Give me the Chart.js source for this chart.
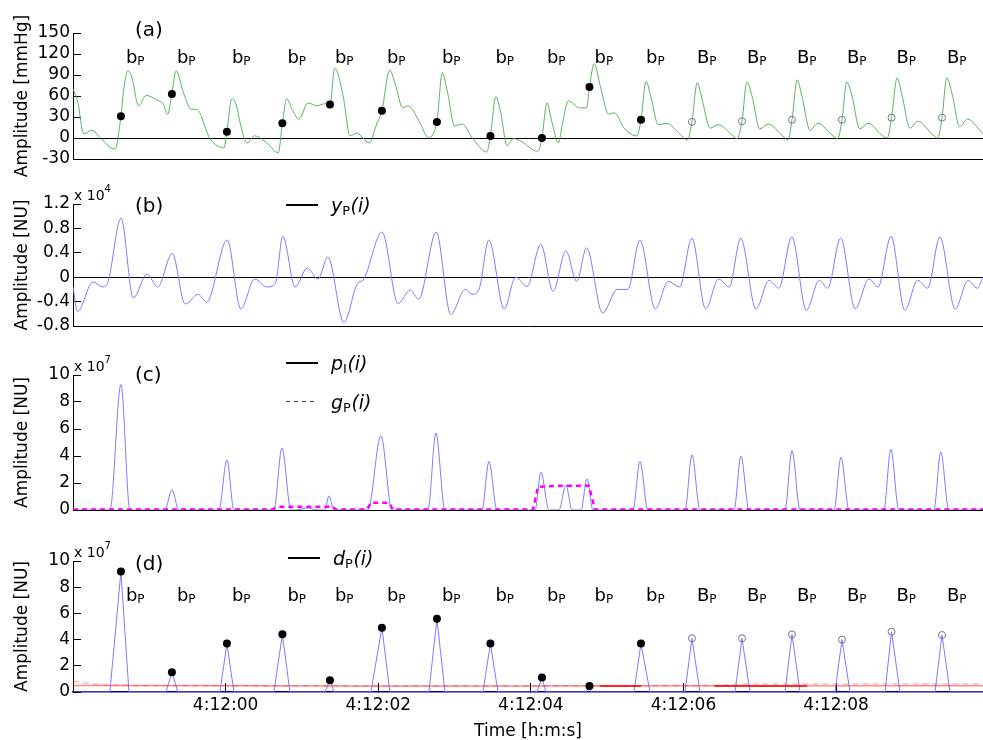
<!DOCTYPE html>
<html>
<head>
<meta charset="utf-8">
<script src="https://cdn.jsdelivr.net/npm/chart.js@4.4.1/dist/chart.umd.min.js"></script>
<style>
    html, body { margin: 0; padding: 0; background: #fff; }
    #wrap { position: relative; width: 983px; height: 740px; overflow: hidden; }
    canvas { position: absolute; left: 0; }
</style>
</head>
<body>
<div id="wrap">
    <canvas id="panel-a" width="983" height="186" style="top:0px;width:983px;height:186px"></canvas>
    <canvas id="panel-b" width="983" height="170" style="top:170px;width:983px;height:170px"></canvas>
    <canvas id="panel-c" width="983" height="180" style="top:340px;width:983px;height:180px"></canvas>
    <canvas id="panel-d" width="983" height="220" style="top:520px;width:983px;height:220px"></canvas>
</div>
<script>
// Time axis, seconds relative to 4:12:00
const X_MIN = -2.0;
const X_MAX = 9.925;
const timeTicks = [0, 2, 4, 6, 8];
const timeTickLabels = ['4:12:00', '4:12:02', '4:12:04', '4:12:06', '4:12:08'];

// Detected beats (b = filled, B = open)
const beatTimes = [-1.372, -0.704, 0.017, 0.744, 1.367, 2.048, 2.769, 3.470, 4.145, 4.768, 5.443, 6.111, 6.767, 7.422, 8.077, 8.726, 9.388];
const beatTypes = ['b', 'b', 'b', 'b', 'b', 'b', 'b', 'b', 'b', 'b', 'b', 'B', 'B', 'B', 'B', 'B', 'B'];
const beatPressure = [31, 63, 9, 21, 48, 39, 23, 3, 0, 73, 26, 23, 24, 26, 26, 29, 29];
const beatDetection = [9.2, 1.5, 3.7, 4.4, 0.9, 4.9, 5.6, 3.7, 1.1, 0.45, 3.7, 4.1, 4.1, 4.4, 4.0, 4.6, 4.35];

// (a) pressure [mmHg]
const pressureTicks = [-30, 0, 30, 60, 90, 120, 150];
const pressureTimes = [
    -2.00, -1.94, -1.86, -1.75, -1.65, -1.45,
    -1.33, -1.28, -1.23, -1.14, -1.04, -0.90, -0.82, -0.76,
    -0.65, -0.55, -0.45, -0.38, -0.21, -0.11, -0.02,
    0.08, 0.14, 0.20, 0.28, 0.38, 0.54, 0.69,
    0.80, 0.88, 0.96, 1.08, 1.20, 1.30,
    1.43, 1.54, 1.63, 1.72, 1.80, 1.88, 1.98,
    2.15, 2.23, 2.32, 2.39, 2.55, 2.66, 2.72,
    2.84, 2.91, 3.00, 3.10, 3.24, 3.42,
    3.54, 3.60, 3.69, 3.77, 3.86, 4.09,
    4.21, 4.28, 4.36, 4.42, 4.49, 4.64, 4.73,
    4.83, 4.91, 5.02, 5.09, 5.23, 5.39,
    5.51, 5.57, 5.67, 5.78, 5.95, 6.05,
    6.18, 6.24, 6.35, 6.45, 6.65, 6.70,
    6.83, 6.90, 7.00, 7.11, 7.30, 7.37,
    7.49, 7.55, 7.66, 7.76, 7.96, 8.02,
    8.14, 8.21, 8.31, 8.42, 8.60, 8.67,
    8.80, 8.86, 8.97, 9.07, 9.27, 9.33,
    9.45, 9.52, 9.62, 9.72, 9.925
];
const pressureValues = [
    70, 53, 6, 11, 1, -16,
    74, 96, 87, 46, 61, 54, 49, 34,
    96, 64, 41, 41, 0, -11, -14,
    56, 47, 17, -7, 3, -7, -21,
    56, 39, 27, 50, 46, 49,
    100, 60, 3, 7, 0, -7, 20,
    97, 74, 43, 46, 21, 0, 6,
    93, 64, 17, 20, -1, -20,
    59, 39, -11, -1, -4, -19,
    50, 21, -7, 24, 53, 43, 43,
    106, 74, 34, 36, 13, 3,
    81, 60, 19, 21, 6, -3,
    79, 57, 14, 19, 3, -1,
    80, 59, 13, 20, 3, -3,
    83, 61, 11, 21, 3, -1,
    80, 59, 13, 21, 4, 0,
    86, 63, 14, 24, 4, 0,
    86, 63, 16, 27, 6
];

// (b) y_P(i), x 10^4
const yPTicks = [-0.8, -0.4, 0, 0.4, 0.8, 1.2];
const yPTimes = [
    -2.00, -1.94, -1.74, -1.61, -1.54, -1.37, -1.21, -1.03, -0.89, -0.70,
    -0.53, -0.36, -0.25, 0.02, 0.20, 0.38, 0.54, 0.65, 0.75, 0.91,
    1.07, 1.21, 1.34, 1.55, 1.73, 1.80, 2.05, 2.26, 2.42, 2.53,
    2.76, 2.95, 3.14, 3.23, 3.32, 3.45, 3.65, 3.80, 3.95, 4.13,
    4.29, 4.46, 4.60, 4.73, 4.94, 5.13, 5.27, 5.43, 5.63, 5.80,
    5.95, 6.11, 6.29, 6.46, 6.60, 6.75, 6.95, 7.12, 7.25, 7.42,
    7.61, 7.78, 7.89, 8.06, 8.25, 8.43, 8.55, 8.72, 8.90, 9.07,
    9.20, 9.36, 9.56, 9.73, 9.85, 9.925
];
const yPValues = [
    -0.16, -0.56, -0.08, -0.16, -0.07, 0.97, -0.34, 0.05, -0.16, 0.39,
    -0.44, -0.28, -0.41, 0.61, -0.52, -0.03, -0.16, -0.11, 0.67, -0.16,
    0.15, -0.03, 0.33, -0.74, -0.10, -0.05, 0.74, -0.43, -0.21, -0.36,
    0.74, -0.61, -0.20, -0.28, -0.20, 0.61, -0.52, 0.00, -0.15, 0.54,
    -0.23, 0.43, -0.07, 0.48, -0.59, -0.20, -0.20, 0.61, -0.52, -0.07,
    -0.16, 0.64, -0.52, -0.03, -0.16, 0.64, -0.52, -0.05, -0.18, 0.66,
    -0.54, -0.05, -0.18, 0.64, -0.52, -0.03, -0.16, 0.67, -0.54, -0.05,
    -0.18, 0.66, -0.52, -0.05, -0.18, 0.00
];

// (c) p_I(i) pulses and g_P(i), x 10^7
const nuTicks = [0, 2, 4, 6, 8, 10];
const pIStart = [-1.516, -0.796, -0.088, 0.633, 0.921, 1.302, 1.865, 2.651, 3.359, 4.054, 4.368, 4.657, 5.338, 6.020, 6.662, 7.330, 7.972, 8.625, 9.280];
const pIPeakTimes = [-1.372, -0.704, 0.017, 0.738, 1.079, 1.354, 2.035, 2.756, 3.451, 4.132, 4.460, 4.735, 5.429, 6.111, 6.753, 7.422, 8.064, 8.717, 9.372];
const pIEnd = [-1.254, -0.612, 0.109, 0.856, 1.210, 1.420, 2.180, 2.874, 3.556, 4.237, 4.539, 4.814, 5.534, 6.216, 6.858, 7.527, 8.169, 8.822, 9.477];
const pIPeaks = [9.3, 1.5, 3.7, 4.6, 0.15, 1.05, 5.5, 5.7, 3.6, 2.8, 1.85, 2.3, 3.6, 4.1, 4.0, 4.4, 3.9, 4.5, 4.3];
const gPTimes = [-2.0, 0.61, 0.685, 1.406, 1.446, 1.852, 1.904, 2.14, 2.193, 4.028, 4.093, 4.381, 4.761, 4.84, 9.925];
const gPValues = [0.03, 0.03, 0.24, 0.24, 0.03, 0.03, 0.54, 0.54, 0.03, 0.03, 1.72, 1.8, 1.8, 0.03, 0.03];

// (d) d_P(i) pulses and thresholds, x 10^7
const dPStart = [-1.516, -0.782, -0.075, 0.633, 1.302, 1.904, 2.664, 3.372, 4.080, 4.722, 5.351, 6.020, 6.675, 7.330, 7.986, 8.641, 9.296];
const dPEnd = [-1.267, -0.625, 0.109, 0.843, 1.420, 2.153, 2.874, 3.569, 4.198, 4.788, 5.561, 6.216, 6.871, 7.527, 8.182, 8.837, 9.493];
const thresholdTimes = [-2.0, 2.0, 9.925];
const thresholdValues = [0.5, 0.45, 0.48];
const adaptiveTimes = [-2.0, -1.75, -1.2, 3.0, 6.4, 6.9, 9.925];
const adaptiveValues = [0.85, 0.6, 0.5, 0.45, 0.5, 0.62, 0.62];
const gateTimes = [4.9, 5.45, 5.46, 6.41, 7.62];
const gateValues = [0.45, 0.45, null, 0.45, 0.45];

const FONT = '"DejaVu Sans", sans-serif';
Chart.defaults.font.family = FONT;
Chart.defaults.font.size = 17;
Chart.defaults.color = '#000';

// Helpers
function toPoints(xs, ys) {
    return xs.map((x, i) => ({ x: x, y: ys[i] }));
}

function pulses(starts, peakTimes, ends, values) {
    const pts = [{ x: X_MIN, y: 0 }];
    starts.forEach((s, i) => {
        pts.push({ x: s, y: 0 }, { x: peakTimes[i], y: values[i] }, { x: ends[i], y: 0 });
    });
    pts.push({ x: X_MAX, y: 0 });
    return pts;
}

function beatMarks(values, type) {
    return beatTimes
        .map((t, i) => ({ x: t, y: values[i], type: beatTypes[i] }))
        .filter(p => p.type === type);
}

function dotSet(values) {
    return {
        data: beatMarks(values, 'b'), showLine: false, order: 0,
        pointRadius: 4, pointBackgroundColor: '#000', pointBorderWidth: 0
    };
}

function ringSet(values) {
    return {
        data: beatMarks(values, 'B'), showLine: false, order: 0,
        pointRadius: 3.5, pointBackgroundColor: 'rgba(0,0,0,0)', pointBorderColor: '#777', pointBorderWidth: 1
    };
}

// Text, legend and beat label overlay
function makeDecor(cfg) {
    return {
        id: 'decor',
        afterDraw(chart) {
            const ctx = chart.ctx;
            const top = chart.chartArea.top;
            const xs = chart.scales.x;
            ctx.save();
            ctx.fillStyle = '#000';
            ctx.textAlign = 'left';
            ctx.textBaseline = 'alphabetic';

            ctx.font = '20px ' + FONT;
            ctx.fillText(cfg.tag, 135, cfg.tagBaseline);

            if (cfg.exponent) {
                ctx.font = '14px ' + FONT;
                ctx.fillText('x 10', 74, top - 4);
                const w = ctx.measureText('x 10').width;
                ctx.font = '10px ' + FONT;
                ctx.fillText(cfg.exponent, 74 + w, top - 12);
            }

            (cfg.legend || []).forEach(item => {
                ctx.beginPath();
                ctx.strokeStyle = item.dash ? '#444' : '#000';
                ctx.lineWidth = item.dash ? 1 : 2;
                ctx.setLineDash(item.dash || []);
                ctx.moveTo(cfg.legendX, item.y);
                ctx.lineTo(cfg.legendX + 32, item.y);
                ctx.stroke();
                ctx.setLineDash([]);
                let x = cfg.legendX + 45;
                item.runs.forEach(run => {
                    const sub = run[1] === 'sub';
                    ctx.font = sub ? '13px ' + FONT : 'italic 19px ' + FONT;
                    ctx.fillText(run[0], x, item.y + (sub ? 10 : 7));
                    x += ctx.measureText(run[0]).width + (sub ? 0.5 : 0);
                });
            });

            if (cfg.beatBaseline) {
                beatTimes.forEach((t, i) => {
                    const x = xs.getPixelForValue(t) + 5;
                    ctx.font = '18px ' + FONT;
                    ctx.fillText(beatTypes[i], x, cfg.beatBaseline);
                    const w = ctx.measureText(beatTypes[i]).width;
                    ctx.font = '12px ' + FONT;
                    ctx.fillText('P', x + w, cfg.beatBaseline + 1.5);
                });
            }
            ctx.restore();
        }
    };
}

function panelOptions(p) {
    return {
        responsive: false,
        animation: false,
        devicePixelRatio: 1,
        events: [],
        layout: { padding: { top: p.top, left: 0, right: 0, bottom: 0 }, autoPadding: false },
        plugins: { legend: { display: false }, tooltip: { enabled: false } },
        elements: { point: { radius: 0 }, line: { borderWidth: 1 } },
        scales: {
            x: {
                type: 'linear',
                min: X_MIN,
                max: X_MAX,
                afterBuildTicks: s => { s.ticks = timeTicks.map(v => ({ value: v })); },
                afterFit: s => {
                    s.height = p.xHeight;
                    s.paddingLeft = 0; s.paddingRight = 0; s.paddingTop = 0; s.paddingBottom = 0;
                },
                grid: { display: !!p.timeAxis, drawOnChartArea: false, tickLength: -9, color: '#000', tickColor: '#000' },
                border: { color: p.baseColor || '#000', width: p.baseWidth || 1 },
                ticks: {
                    display: !!p.timeAxis, padding: 12, maxRotation: 0, autoSkip: false,
                    callback: (v, i) => timeTickLabels[i]
                },
                title: { display: !!p.timeAxis, text: 'Time [h:m:s]', padding: { top: 0, bottom: -2 } }
            },
            y: {
                type: 'linear',
                min: p.yTicks[0],
                max: p.yTicks[p.yTicks.length - 1],
                afterBuildTicks: s => { s.ticks = p.yTicks.map(v => ({ value: v })); },
                afterFit: s => {
                    s.width = 73;
                    s.paddingLeft = 0; s.paddingRight = 0; s.paddingTop = 0; s.paddingBottom = 0;
                },
                grid: {
                    drawOnChartArea: true, tickLength: -8, tickColor: '#000', lineWidth: 1,
                    color: c => (p.zeroLine && c.tick && c.tick.value === 0) ? '#000' : 'rgba(0,0,0,0)'
                },
                border: { color: '#000', width: 1 },
                ticks: { padding: 11, autoSkip: false, callback: p.yFormat || (v => String(v)) },
                title: { display: true, text: p.yTitle, padding: { top: 12, bottom: 0 } }
            }
        }
    };
}

const GREEN = '#55b455';
const BLUE = '#7b7bff';

// (a) pressure
const pressurePoints = toPoints(pressureTimes, pressureValues)
    .concat(toPoints(beatTimes, beatPressure))
    .sort((p, q) => p.x - q.x);

new Chart(document.getElementById('panel-a'), {
    type: 'line',
    data: {
        datasets: [
            dotSet(beatPressure),
            ringSet(beatPressure),
            { data: pressurePoints, borderColor: GREEN, borderWidth: 1, cubicInterpolationMode: 'monotone', order: 1 }
        ]
    },
    options: panelOptions({ top: 33, xHeight: 27, yTicks: pressureTicks, yTitle: 'Amplitude [mmHg]', zeroLine: true }),
    plugins: [makeDecor({ tag: '(a)', tagBaseline: 36, beatBaseline: 63 })]
});

// (b) y_P(i)
new Chart(document.getElementById('panel-b'), {
    type: 'line',
    data: {
        datasets: [
            { data: toPoints(yPTimes, yPValues), borderColor: BLUE, borderWidth: 1, cubicInterpolationMode: 'monotone' }
        ]
    },
    options: panelOptions({
        top: 34, xHeight: 14, yTicks: yPTicks, yTitle: 'Amplitude [NU]', zeroLine: true,
        yFormat: v => v === 0 ? '0' : v.toFixed(1)
    }),
    plugins: [makeDecor({
        tag: '(b)', tagBaseline: 42, exponent: '4', legendX: 286,
        legend: [{ y: 35, runs: [['y', 'main'], ['P', 'sub'], ['(i)', 'main']] }]
    })]
});

// (c) p_I(i) and g_P(i)
new Chart(document.getElementById('panel-c'), {
    type: 'line',
    data: {
        datasets: [
            { data: toPoints(gPTimes, gPValues), borderColor: '#ff00ff', borderWidth: 2.5, borderDash: [5, 4], order: 0 },
            { data: pulses(pIStart, pIPeakTimes, pIEnd, pIPeaks), borderColor: BLUE, borderWidth: 1, cubicInterpolationMode: 'monotone', order: 1 }
        ]
    },
    options: panelOptions({ top: 35, xHeight: 10, yTicks: nuTicks, yTitle: 'Amplitude [NU]' }),
    plugins: [makeDecor({
        tag: '(c)', tagBaseline: 41, exponent: '7', legendX: 286,
        legend: [
            { y: 23, runs: [['p', 'main'], ['I', 'sub'], ['(i)', 'main']] },
            { y: 61.5, dash: [4, 4], runs: [['g', 'main'], ['P', 'sub'], ['(i)', 'main']] }
        ]
    })]
});

// (d) d_P(i) with thresholds
new Chart(document.getElementById('panel-d'), {
    type: 'line',
    data: {
        datasets: [
            dotSet(beatDetection),
            ringSet(beatDetection),
            { data: toPoints(gateTimes, gateValues), borderColor: '#ff0000', borderWidth: 1.5, spanGaps: false, order: 1 },
            { data: toPoints(thresholdTimes, thresholdValues), borderColor: 'rgba(255,0,0,0.45)', borderWidth: 1.5, order: 2 },
            { data: toPoints(adaptiveTimes, adaptiveValues), borderColor: 'rgba(255,90,90,0.45)', borderWidth: 1.5, borderDash: [6, 4], order: 2 },
            { data: pulses(dPStart, beatTimes, dPEnd, beatDetection), borderColor: BLUE, borderWidth: 1, order: 3 }
        ]
    },
    options: panelOptions({
        top: 41, xHeight: 48, yTicks: nuTicks, yTitle: 'Amplitude [NU]',
        timeAxis: true, baseColor: '#000080', baseWidth: 1.5
    }),
    plugins: [makeDecor({
        tag: '(d)', tagBaseline: 50, exponent: '7', legendX: 288, beatBaseline: 81,
        legend: [{ y: 38, runs: [['d', 'main'], ['P', 'sub'], ['(i)', 'main']] }]
    })]
});
</script>
</body>
</html>
